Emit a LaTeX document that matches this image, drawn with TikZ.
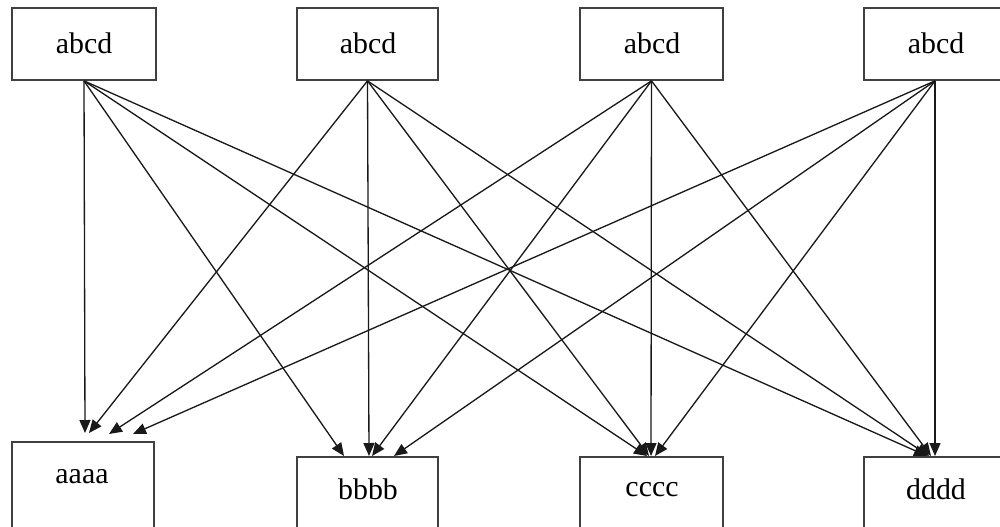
\documentclass[tikz,border=0pt]{standalone}
\usepackage{fontspec}
\setmainfont{Liberation Serif}
\usetikzlibrary{arrows.meta}
\begin{document}
\begin{tikzpicture}[x=0.02cm,y=-0.02cm,
  boxstyle/.style={draw=black!75,line width=1pt,fill=white,rectangle,inner sep=0pt},
  lbl/.style={inner sep=0pt,font=\fontsize{17}{20}\selectfont},
  conn/.style={draw=black!90,line width=0.75pt,-{Triangle[length=0.26cm,width=0.22cm]}}]
\useasboundingbox (0,0) rectangle (1000,527);
\clip (0,0) rectangle (1000,527);
\fill[white] (0,0) rectangle (1000,527);
% top boxes
\node[boxstyle,minimum width=144*0.02cm,minimum height=72*0.02cm] (s1) at (84,44) {};
\node[boxstyle,minimum width=141*0.02cm,minimum height=72*0.02cm] (s2) at (367.5,44) {};
\node[boxstyle,minimum width=143*0.02cm,minimum height=72*0.02cm] (s3) at (651.5,44) {};
\node[boxstyle,minimum width=142*0.02cm,minimum height=72*0.02cm] (s4) at (935,44) {};
\node[lbl] (t1) at (84,43) {abcd};
\node[lbl] (t2) at (368,43) {abcd};
\node[lbl] (t3) at (652,43) {abcd};
\node[lbl] (t4) at (936,43) {abcd};
% bottom boxes
\node[boxstyle,minimum width=142*0.02cm,minimum height=120*0.02cm] (b1) at (83,502) {};
\node[boxstyle,minimum width=141*0.02cm,minimum height=120*0.02cm] (b2) at (367.5,517) {};
\node[boxstyle,minimum width=143*0.02cm,minimum height=120*0.02cm] (b3) at (651.5,517) {};
\node[boxstyle,minimum width=142*0.02cm,minimum height=120*0.02cm] (b4) at (935,517) {};
\node[lbl] (u1) at (82,477) {aaaa};
\node[lbl] (u2) at (368,489) {bbbb};
\node[lbl] (u3) at (652,490) {cccc};
\node[lbl] (u4) at (936,489) {dddd};
% arrow end coordinates
\coordinate (a1) at (85,433);
\coordinate (a2) at (89,433);
\coordinate (a3) at (109,434);
\coordinate (a4) at (133,434);
\coordinate (c1) at (344,456);
\coordinate (c2) at (369,456);
\coordinate (c3) at (372,456);
\coordinate (c4) at (394,456);
\coordinate (d1) at (647,456);
\coordinate (d2) at (649,456);
\coordinate (d3) at (651,456);
\coordinate (d4) at (655,456);
\coordinate (e1) at (927,456);
\coordinate (e2) at (929,456);
\coordinate (e3) at (931,456);
\coordinate (e4) at (935,456);
% connectors
\foreach \s in {1,2,3,4}{
  \draw[conn] (s\s.south) -- (a\s);
  \draw[conn] (s\s.south) -- (c\s);
  \draw[conn] (s\s.south) -- (d\s);
  \draw[conn] (s\s.south) -- (e\s);
}
\end{tikzpicture}
\end{document}
